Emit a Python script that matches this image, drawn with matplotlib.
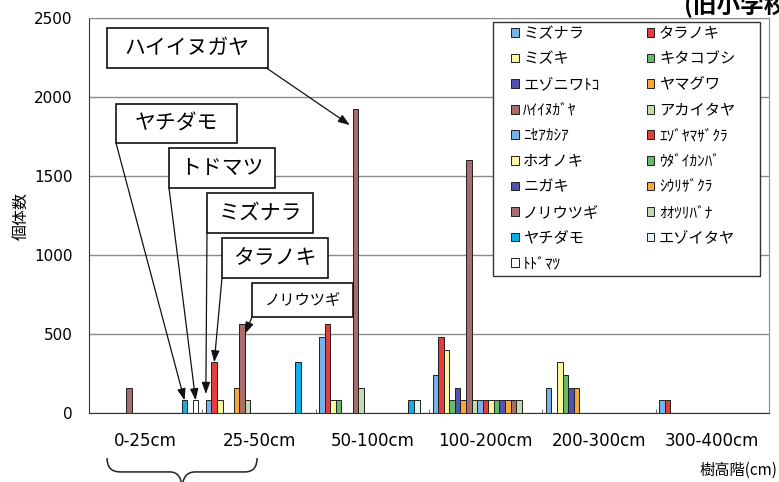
import numpy as np
import matplotlib.pyplot as plt
from matplotlib.patches import Rectangle, PathPatch
from matplotlib.path import Path
import matplotlib.transforms as mtransforms

plt.rcParams['font.family'] = ['Noto Sans CJK JP', 'DejaVu Sans']

height_classes = ['0-25cm', '25-50cm', '50-100cm', '100-200cm', '200-300cm', '300-400cm']

species = ['ミズナラ', 'タラノキ', 'ミズキ', 'キタコブシ', 'エゾニワﾄｺ', 'ヤマグワ',
           'ﾊｲｲﾇｶﾞﾔ', 'アカイタヤ', 'ﾆｾｱｶｼｱ', 'ｴｿﾞﾔﾏｻﾞｸﾗ', 'ホオノキ', 'ｳﾀﾞｲｶﾝﾊﾞ',
           'ニガキ', 'ｼｳﾘｻﾞｸﾗ', 'ノリウツギ', 'ｵｵﾂﾘﾊﾞﾅ', 'ヤチダモ', 'エゾイタヤ', 'ﾄﾄﾞﾏﾂ']

# number of trees per species, one list per height class (same order as species)
h_0_25 = [0, 0, 0, 0, 0, 0, 160, 0, 0, 0, 0, 0, 0, 0, 0, 0, 80, 0, 80]
h_25_50 = [80, 320, 80, 0, 0, 160, 560, 80, 0, 0, 0, 0, 0, 0, 0, 0, 320, 0, 0]
h_50_100 = [480, 560, 80, 80, 0, 0, 1920, 160, 0, 0, 0, 0, 0, 0, 0, 0, 80, 80, 0]
h_100_200 = [240, 480, 400, 80, 160, 80, 1600, 80, 80, 80, 80, 80, 80, 80, 80, 80, 0, 0, 0]
h_200_300 = [160, 0, 320, 240, 160, 160, 0, 0, 0, 0, 0, 0, 0, 0, 0, 0, 0, 0, 0]
h_300_400 = [80, 80, 0, 0, 0, 0, 0, 0, 0, 0, 0, 0, 0, 0, 0, 0, 0, 0, 0]

colors = ['#78b2ea', '#e63c3c', '#fbf7a0', '#66bb66', '#5252b0', '#f8a838',
          '#a86c6c', '#c2dcb2', '#78b2ea', '#e63c3c', '#fbf7a0', '#66bb66',
          '#5252b0', '#f8a838', '#a86c6c', '#c2dcb2', '#12aee8', '#e2f4f6', '#ffffff']

counts = np.array([h_0_25, h_25_50, h_50_100, h_100_200, h_200_300, h_300_400]).T

W, H = 779, 482
fig = plt.figure(figsize=(W / 100, H / 100), dpi=100)
ax = fig.add_axes([89 / W, 69 / H, 680 / W, 395.5 / H])

x = np.arange(len(height_classes))
bw = 0.0492
start = -0.5 + 0.031

def bar_x(i, k):
    return k + start + (i + 0.5) * bw

bars = []
for i, name in enumerate(species):
    b = ax.bar(x + start + (i + 0.5) * bw, counts[i], width=bw, color=colors[i],
               edgecolor='#202020', linewidth=0.7, label=name, zorder=3)
    bars.append(b)

ax.set_xlim(-0.5, 5.5)
ax.set_ylim(0, 2500)
ax.set_yticks(range(0, 2501, 500))
ax.yaxis.grid(True, color='#8a8a8a', linewidth=1)
ax.set_axisbelow(True)
ax.tick_params(axis='y', length=0, pad=12, labelsize=11)
for t in ax.get_yticklabels():
    t.set_fontfamily('DejaVu Sans')

ax.set_xticks(x)
ax.set_xticklabels(height_classes, fontfamily='DejaVu Sans', fontsize=12)
ax.tick_params(axis='x', which='major', length=0, pad=14)
ax.set_xticks(np.arange(0.5, 5.5, 1), minor=True)
ax.tick_params(axis='x', which='minor', direction='in', length=3, color='#555555')

ax.spines['left'].set_color('#333333')
ax.spines['bottom'].set_color('#333333')
ax.spines['top'].set_color('#8a8a8a')
ax.spines['right'].set_color('#8a8a8a')

# legend frame drawn separately so its padding can be set freely
frame = Rectangle((493 / W, 1 - 276 / H), 267 / W, 254 / H, transform=fig.transFigure,
                  facecolor='white', edgecolor='#333333', linewidth=1, zorder=9,
                  clip_on=False)
ax.add_patch(frame)

# legend laid out row by row: left column takes the even entries
order = list(range(0, len(species), 2)) + list(range(1, len(species), 2))
leg = ax.legend([bars[i] for i in order], [species[i] for i in order], ncol=2,
                loc='upper left', bbox_to_anchor=(511 / W, 1 - 25 / H),
                bbox_transform=fig.transFigure, borderaxespad=0,
                fontsize=11, handlelength=0.5, handleheight=0.5, handletextpad=0.3,
                labelspacing=0.56, columnspacing=3.1, borderpad=0, frameon=False)
leg.set_zorder(10)

fig.text(22 / W, 1 - 216 / H, '個体数', rotation=90, ha='center', va='center', fontsize=11.5)
fig.text(777 / W, 1 - 470 / H, '樹高階(cm)', ha='right', va='center', fontsize=11)
fig.text(684 / W, 1 - 13 / H, '(旧小学校)', ha='left', va='baseline', fontsize=17,
         fontweight='bold')

# curly brace under the two lowest height classes
brace = Path([(-0.341, -0.114), (-0.341, -0.149), (-0.226, -0.149),
              (0.215, -0.149), (0.321, -0.149), (0.321, -0.195),
              (0.321, -0.149), (0.436, -0.149),
              (0.877, -0.149), (0.983, -0.149), (0.983, -0.114)],
             [Path.MOVETO, Path.CURVE3, Path.CURVE3,
              Path.LINETO, Path.CURVE3, Path.CURVE3,
              Path.CURVE3, Path.CURVE3,
              Path.LINETO, Path.CURVE3, Path.CURVE3])
trans = mtransforms.blended_transform_factory(ax.transData, ax.transAxes)
ax.add_patch(PathPatch(brace, transform=trans, facecolor='none', edgecolor='#222222',
                       linewidth=1.1, clip_on=False))


def label_box(text, box, corner, target, size=15):
    x0, y0, x1, y1 = box
    fig.add_artist(Rectangle((x0 / W, 1 - y1 / H), (x1 - x0) / W, (y1 - y0) / H,
                             transform=fig.transFigure, facecolor='white',
                             edgecolor='#111111', linewidth=1.2, zorder=5))
    fig.text((x0 + x1) / 2 / W, 1 - (y0 + y1) / 2 / H, text, ha='center', va='center',
             fontsize=size, zorder=6)
    ax.annotate('', xy=target, xycoords='data',
                xytext=(corner[0], H - corner[1]), textcoords='figure pixels',
                arrowprops=dict(arrowstyle='-|>,head_length=0.7,head_width=0.25',
                                color='#111111', lw=0.9, shrinkA=0, shrinkB=0),
                annotation_clip=False, zorder=4)


label_box('ハイイヌガヤ', (107, 28, 268, 68), (265, 67),
          (bar_x(6, 2) - bw, h_50_100[6] - 100))
label_box('ヤチダモ', (116, 104, 237, 143), (116, 143), (bar_x(16, 0), h_0_25[16]))
label_box('トドマツ', (169, 148, 275, 188), (169, 188), (bar_x(18, 0), h_0_25[18]))
label_box('ミズナラ', (207, 193, 313, 233), (207, 233), (bar_x(0, 1) - bw / 2, h_25_50[0] + 40))
label_box('タラノキ', (222, 238, 328, 278), (222, 278), (bar_x(1, 1), h_25_50[1]))
label_box('ノリウツギ', (252, 283, 353, 317), (252, 317),
          (bar_x(6, 1) + bw / 2, h_25_50[6] - 60), size=11)

fig.savefig('out.png', dpi=100)
